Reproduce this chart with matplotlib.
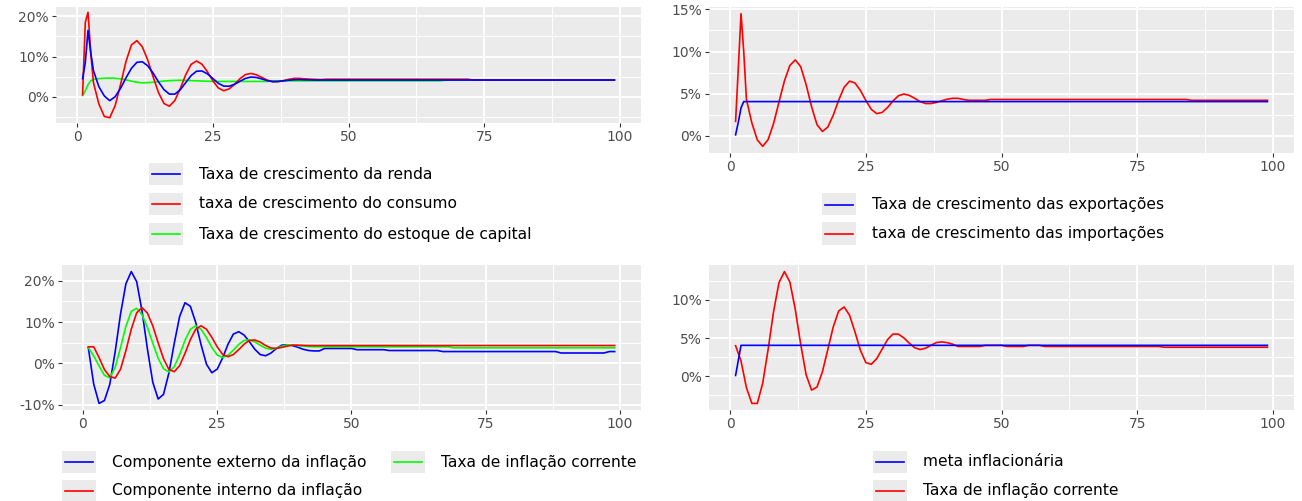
import matplotlib
matplotlib.use('Agg')
import matplotlib.pyplot as plt
from matplotlib.patches import Rectangle
from matplotlib.lines import Line2D
from matplotlib.ticker import MultipleLocator, FixedLocator, FuncFormatter

# periodos (os dois primeiros graficos tem meio-passos no inicio)
t_cresc = [1, 1.5, 2, 2.5] + list(range(3, 100))
t_infl = list(range(1, 100))

renda = [4.5, 8.5, 16.5, 11.0, 6.5, 2.5, 0.2, -0.97, 0.0, 2.1,
         4.7, 7.06, 8.55, 8.7, 7.7, 5.85, 3.67, 1.76, 0.65, 0.65,
         1.74, 3.5, 5.26, 6.35, 6.4, 5.69, 4.53, 3.36, 2.65, 2.61,
         3.09, 3.84, 4.54, 4.89, 4.8, 4.43, 4.01, 3.77, 3.8, 3.95,
         4.1, 4.22, 4.25, 4.2, 4.18,
         4.15, 4.15, 4.15, 4.15, 4.15, 4.15, 4.15, 4.15, 4.15, 4.15,
         4.15, 4.15, 4.15, 4.15, 4.15, 4.15, 4.15, 4.15, 4.15, 4.15,
         4.15, 4.15, 4.15, 4.15, 4.15, 4.15, 4.15, 4.15, 4.15, 4.15,
         4.15, 4.15, 4.15, 4.15, 4.15, 4.15, 4.15, 4.15, 4.15, 4.15,
         4.15, 4.15, 4.15, 4.15, 4.15, 4.15, 4.15, 4.15, 4.15, 4.15,
         4.15, 4.15, 4.15, 4.15, 4.15, 4.15]
consumo = [0.5, 18.5, 21.0, 11.0, 3.5, -1.8, -4.9, -5.22, -2.21, 3.07,
           8.78, 12.88, 13.95, 12.43, 9.14, 4.94, 0.98, -1.69, -2.36, -0.93,
           2.04, 5.45, 8.06, 8.89, 8.08, 6.21, 3.97, 2.18, 1.5, 1.95,
           3.09, 4.47, 5.51, 5.79, 5.47, 4.82, 4.15, 3.74, 3.75, 4.0,
           4.33, 4.57, 4.55, 4.45, 4.35, 4.3, 4.25,
           4.35, 4.35, 4.35, 4.35, 4.35, 4.35, 4.35, 4.35, 4.35, 4.35,
           4.35, 4.35, 4.35, 4.35, 4.35, 4.35, 4.35, 4.35, 4.35, 4.35,
           4.35, 4.35, 4.35, 4.35, 4.35, 4.35, 4.35,
           4.15, 4.15, 4.15, 4.15, 4.15, 4.15, 4.15, 4.15, 4.15, 4.15,
           4.15, 4.15, 4.15, 4.15, 4.15, 4.15, 4.15, 4.15, 4.15, 4.15,
           4.15, 4.15, 4.15, 4.15, 4.15, 4.15, 4.15]
capital = [0.3, 1.5, 3.0, 4.0, 4.3, 4.5, 4.6, 4.65, 4.6, 4.45,
           4.2, 3.9, 3.6, 3.45, 3.5, 3.6, 3.75, 3.9, 4.0, 4.05,
           4.1, 4.05, 4.0, 3.95, 3.9, 3.85,
           3.8, 3.8, 3.8, 3.8, 3.8, 3.8, 3.8, 3.8, 3.8, 3.8, 3.8,
           3.95, 3.95, 3.95, 3.95, 3.95, 3.95, 3.95, 3.95, 3.95, 3.95,
           3.95, 3.95, 3.95, 3.95, 3.95, 3.95, 3.95, 3.95, 3.95, 3.95,
           3.95, 3.95, 3.95, 3.95, 3.95, 3.95, 3.95, 3.95, 3.95, 3.95,
           3.95, 3.95,
           4.15, 4.15, 4.15, 4.15, 4.15, 4.15, 4.15, 4.15, 4.15, 4.15,
           4.15, 4.15, 4.15, 4.15, 4.15, 4.15, 4.15, 4.15, 4.15, 4.15,
           4.15, 4.15, 4.15, 4.15, 4.15, 4.15, 4.15, 4.15, 4.15, 4.15,
           4.15, 4.15]

exportacoes = [0.1, 1.6, 3.3, 4.05,
               4.05, 4.05, 4.05, 4.05, 4.05, 4.05, 4.05, 4.05, 4.05, 4.05,
               4.05, 4.05, 4.05, 4.05, 4.05, 4.05, 4.05, 4.05, 4.05, 4.05,
               4.05, 4.05, 4.05, 4.05, 4.05, 4.05, 4.05, 4.05, 4.05, 4.05,
               4.05, 4.05, 4.05, 4.05, 4.05, 4.05, 4.05, 4.05, 4.05, 4.05,
               4.05, 4.05, 4.05, 4.05, 4.05, 4.05, 4.05, 4.05, 4.05, 4.05,
               4.05, 4.05, 4.05, 4.05, 4.05, 4.05, 4.05, 4.05, 4.05, 4.05,
               4.05, 4.05, 4.05, 4.05, 4.05, 4.05, 4.05, 4.05, 4.05, 4.05,
               4.05, 4.05, 4.05, 4.05, 4.05, 4.05, 4.05, 4.05, 4.05, 4.05,
               4.05, 4.05, 4.05, 4.05, 4.05, 4.05, 4.05, 4.05, 4.05, 4.05,
               4.05, 4.05, 4.05, 4.05, 4.05, 4.05, 4.05]
importacoes = [1.7, 8.0, 14.5, 10.0, 4.3, 1.5, -0.5, -1.27, -0.46, 1.45,
               4.0, 6.51, 8.34, 9.0, 8.19, 6.06, 3.44, 1.31, 0.5, 1.03,
               2.44, 4.22, 5.75, 6.48, 6.26, 5.38, 4.19, 3.13, 2.62, 2.76,
               3.35, 4.12, 4.74, 4.95, 4.79, 4.44, 4.05, 3.82, 3.82, 3.95,
               4.15, 4.33, 4.44, 4.43, 4.3,
               4.2, 4.2, 4.2, 4.2,
               4.3, 4.3, 4.3, 4.3, 4.3, 4.3, 4.3, 4.3, 4.3, 4.3,
               4.3, 4.3, 4.3, 4.3, 4.3, 4.3, 4.3, 4.3, 4.3, 4.3,
               4.3, 4.3, 4.3, 4.3, 4.3, 4.3, 4.3, 4.3, 4.3, 4.3,
               4.3, 4.3, 4.3, 4.3, 4.3, 4.3, 4.3,
               4.2, 4.2, 4.2, 4.2, 4.2, 4.2, 4.2, 4.2, 4.2, 4.2,
               4.2, 4.2, 4.2, 4.2, 4.2]

externo = [3.8, -5.0, -9.7, -9.0, -5.09, 2.83, 11.96, 19.26, 22.2, 19.77,
           12.68, 3.49, -4.57, -8.63, -7.51, -2.36, 4.84, 11.34, 14.66, 13.8,
           9.87, 4.47, -0.22, -2.28, -1.4, 1.29, 4.6, 7.07, 7.66, 6.84,
           5.21, 3.41, 2.12, 1.83, 2.48, 3.57, 4.38, 4.5, 4.3, 3.9,
           3.4, 3.1, 3.0, 3.0,
           3.6, 3.6, 3.6, 3.6, 3.6, 3.6,
           3.3, 3.3, 3.3, 3.3, 3.3, 3.3,
           3.1, 3.1, 3.1, 3.1, 3.1, 3.1, 3.1, 3.1, 3.1, 3.1,
           2.85, 2.85, 2.85, 2.85, 2.85, 2.85, 2.85, 2.85, 2.85, 2.85,
           2.85, 2.85, 2.85, 2.85, 2.85, 2.85, 2.85, 2.85, 2.85, 2.85,
           2.85, 2.85,
           2.5, 2.5, 2.5, 2.5, 2.5, 2.5, 2.5, 2.5, 2.5,
           2.85, 2.85]
interno = [4.0, 4.0, 1.4, -1.5, -3.2, -3.58, -1.41, 3.09, 8.27, 12.22,
           13.49, 12.17, 9.05, 4.97, 1.1, -1.47, -2.03, -0.55, 2.4, 5.74,
           8.28, 9.08, 8.24, 6.28, 3.97, 2.18, 1.6, 2.13, 3.31, 4.63,
           5.54, 5.65, 5.13, 4.33, 3.71, 3.62, 3.84, 4.16, 4.38, 4.4,
           4.35,
           4.3, 4.3, 4.3, 4.3, 4.3, 4.3, 4.3, 4.3, 4.3, 4.3,
           4.3, 4.3, 4.3, 4.3, 4.3, 4.3, 4.3, 4.3, 4.3, 4.3,
           4.3, 4.3, 4.3, 4.3, 4.3, 4.3, 4.3, 4.3, 4.3, 4.3,
           4.3, 4.3, 4.3, 4.3, 4.3, 4.3, 4.3, 4.3, 4.3, 4.3,
           4.3, 4.3, 4.3, 4.3, 4.3, 4.3, 4.3, 4.3, 4.3, 4.3,
           4.3, 4.3, 4.3, 4.3, 4.3, 4.3, 4.3, 4.3]
corrente = [3.8, 1.8, -0.65, -2.9, -3.5, -0.96, 3.81, 8.98, 12.59, 13.31,
            11.78, 8.7, 4.87, 1.22, -1.31, -2.09, -0.82, 2.11, 5.56, 8.23,
            9.09, 8.22, 6.21, 3.83, 2.0, 1.4, 1.95, 3.19, 4.58, 5.53,
            5.65, 5.17, 4.39, 3.68, 3.4, 3.62, 4.1, 4.46, 4.45, 4.3,
            4.15, 4.05,
            4.0, 4.0, 4.0, 4.0, 4.0, 4.0, 4.0, 4.0, 4.0, 4.0,
            4.0, 4.0, 4.0, 4.0, 4.0, 4.0, 4.0, 4.0, 4.0, 4.0,
            4.0, 4.0, 4.0, 4.0, 4.0, 4.0,
            3.75, 3.75, 3.75, 3.75, 3.75, 3.75, 3.75, 3.75, 3.75, 3.75,
            3.75, 3.75, 3.75, 3.75, 3.75, 3.75, 3.75, 3.75, 3.75, 3.75,
            3.75, 3.75, 3.75, 3.75, 3.75, 3.75, 3.75, 3.75, 3.75, 3.75,
            3.75]

meta = [0.1,
        4.05, 4.05, 4.05, 4.05, 4.05, 4.05, 4.05, 4.05, 4.05, 4.05,
        4.05, 4.05, 4.05, 4.05, 4.05, 4.05, 4.05, 4.05, 4.05, 4.05,
        4.05, 4.05, 4.05, 4.05, 4.05, 4.05, 4.05, 4.05, 4.05, 4.05,
        4.05, 4.05, 4.05, 4.05, 4.05, 4.05, 4.05, 4.05, 4.05, 4.05,
        4.05, 4.05, 4.05, 4.05, 4.05, 4.05, 4.05, 4.05, 4.05, 4.05,
        4.05, 4.05, 4.05, 4.05, 4.05, 4.05, 4.05, 4.05, 4.05, 4.05,
        4.05, 4.05, 4.05, 4.05, 4.05, 4.05, 4.05, 4.05, 4.05, 4.05,
        4.05, 4.05, 4.05, 4.05, 4.05, 4.05, 4.05, 4.05, 4.05, 4.05,
        4.05, 4.05, 4.05, 4.05, 4.05, 4.05, 4.05, 4.05, 4.05, 4.05,
        4.05, 4.05, 4.05, 4.05, 4.05, 4.05, 4.05, 4.05]
inflacao = [4.0, 2.0, -1.5, -3.55, -3.55, -0.89, 3.54, 8.48, 12.27, 13.7,
            12.34, 8.75, 4.17, 0.19, -1.81, -1.41, 0.59, 3.52, 6.48, 8.55,
            9.07, 7.99, 5.8, 3.4, 1.79, 1.57, 2.3, 3.55, 4.8, 5.53,
            5.51, 5.03, 4.34, 3.74, 3.5, 3.67, 4.06, 4.41, 4.5, 4.4,
            4.2,
            3.9, 3.9, 3.9, 3.9, 3.9,
            4.05, 4.05, 4.05, 4.05,
            3.9, 3.9, 3.9, 3.9,
            4.05, 4.05, 4.05,
            3.9, 3.9, 3.9, 3.9, 3.9, 3.9, 3.9, 3.9, 3.9, 3.9,
            3.9, 3.9, 3.9, 3.9, 3.9, 3.9, 3.9, 3.9, 3.9, 3.9,
            3.9, 3.9,
            3.8, 3.8, 3.8, 3.8, 3.8, 3.8, 3.8, 3.8, 3.8, 3.8,
            3.8, 3.8, 3.8, 3.8, 3.8, 3.8, 3.8, 3.8, 3.8, 3.8]

for serie in (renda, consumo, capital, exportacoes, importacoes):
    assert len(serie) == len(t_cresc), len(serie)
for serie in (externo, interno, corrente, meta, inflacao):
    assert len(serie) == len(t_infl), len(serie)

leg_renda = ["Taxa de crescimento da renda", "taxa de crescimento do consumo",
             "Taxa de crescimento do estoque de capital"]
leg_comercio = ["Taxa de crescimento das exportações", "taxa de crescimento das importações"]
leg_comp = ["Componente externo da inflação", "Componente interno da inflação",
            "Taxa de inflação corrente"]
leg_meta = ["meta inflacionária", "Taxa de inflação corrente"]

W, H = 1302, 501
fig = plt.figure(figsize=(W / 100, H / 100), dpi=100)
plt.rcParams['font.family'] = ['DejaVu Sans']

AZUL, VERMELHO, VERDE = '#0000FF', '#FF0000', '#00FF00'
LW = 1.2


def eixo(x0, y0, x1, y1):
    return fig.add_axes([x0 / W, 1 - y1 / H, (x1 - x0) / W, (y1 - y0) / H])


def estilo(ax, yticks, ystep):
    ax.set_facecolor('#EBEBEB')
    for s in ax.spines.values():
        s.set_visible(False)
    ax.margins(x=0.05, y=0.05)
    ax.xaxis.set_major_locator(MultipleLocator(25))
    ax.xaxis.set_minor_locator(MultipleLocator(12.5))
    ax.yaxis.set_major_locator(FixedLocator(yticks))
    ax.yaxis.set_minor_locator(MultipleLocator(ystep / 2))
    ax.yaxis.set_major_formatter(FuncFormatter(lambda v, p: f'{v:g}%'))
    ax.grid(which='major', color='white', lw=1.3)
    ax.grid(which='minor', color='white', lw=0.65)
    ax.set_axisbelow(True)
    ax.tick_params(which='major', length=2.7, width=0.8, color='#333333',
                   labelsize=10, labelcolor='#4D4D4D', pad=2.4)
    ax.tick_params(which='minor', length=0)


def legenda(x, yc, cor, texto):
    fig.add_artist(Rectangle((x / W, 1 - (yc + 11) / H), 34 / W, 22 / H,
                             transform=fig.transFigure, facecolor='#EBEBEB',
                             edgecolor='none'))
    fig.add_artist(Line2D([(x + 3) / W, (x + 31) / W], [1 - yc / H] * 2,
                          transform=fig.transFigure, color=cor, lw=LW))
    fig.text((x + 50) / W, 1 - yc / H, texto, fontsize=11.2, va='center', ha='left')


# crescimento
ax1 = eixo(56, 7, 641, 123)
ax1.plot(t_cresc, capital, color=VERDE, lw=LW)
ax1.plot(t_cresc, consumo, color=VERMELHO, lw=LW)
ax1.plot(t_cresc, renda, color=AZUL, lw=LW)
estilo(ax1, [0, 10, 20], 10)
for yc, cor, txt in zip([174, 204, 234], [AZUL, VERMELHO, VERDE], leg_renda):
    legenda(149, yc, cor, txt)

# comercio exterior
ax2 = eixo(709, 7, 1294, 153)
ax2.plot(t_cresc, importacoes, color=VERMELHO, lw=LW)
ax2.plot(t_cresc, exportacoes, color=AZUL, lw=LW)
estilo(ax2, [0, 5, 10, 15], 5)
for yc, cor, txt in zip([204.5, 233.5], [AZUL, VERMELHO], leg_comercio):
    legenda(822, yc, cor, txt)

# componentes da inflacao
ax3 = eixo(62, 265, 641, 410)
ax3.plot(t_infl, externo, color=AZUL, lw=LW)
ax3.plot(t_infl, corrente, color=VERDE, lw=LW)
ax3.plot(t_infl, interno, color=VERMELHO, lw=LW)
estilo(ax3, [-10, 0, 10, 20], 10)
legenda(62, 462, AZUL, leg_comp[0])
legenda(62, 491, VERMELHO, leg_comp[1])
legenda(391, 462, VERDE, leg_comp[2])

# meta de inflacao
ax4 = eixo(709, 265, 1294, 410)
ax4.plot(t_infl, inflacao, color=VERMELHO, lw=LW)
ax4.plot(t_infl, meta, color=AZUL, lw=LW)
estilo(ax4, [0, 5, 10], 5)
for yc, cor, txt in zip([462, 491], [AZUL, VERMELHO], leg_meta):
    legenda(873, yc, cor, txt)

fig.savefig('out.png', dpi=100)
